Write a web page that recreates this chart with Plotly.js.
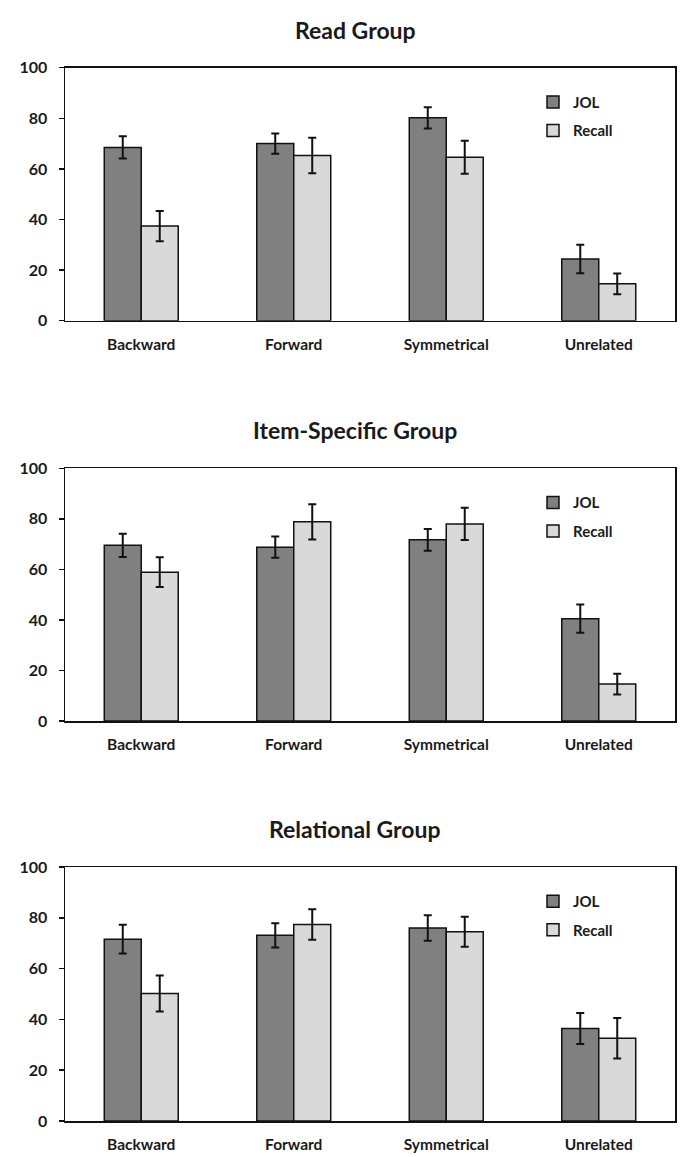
<!DOCTYPE html>
<html>
<head>
<meta charset="utf-8">
<script src="https://cdn.plot.ly/plotly-3.0.1.min.js"></script>
<style>html,body{margin:0;padding:0;background:#fff;}#chart{width:683px;height:1157px;}</style>
</head>
<body>
<div id="chart"></div>
<script>
// ---- data ----
const categories = ["Backward", "Forward", "Symmetrical", "Unrelated"];
const panelTitles = ["Read Group", "Item-Specific Group", "Relational Group"];
const seriesNames = ["JOL", "Recall"];

const readJOL = [68.5, 70.0, 80.2, 24.4];
const readJOLErr = [4.4, 4.0, 4.2, 5.6];
const readRecall = [37.4, 65.3, 64.6, 14.6];
const readRecallErr = [6.0, 7.0, 6.5, 4.1];

const itemJOL = [69.5, 68.8, 71.7, 40.5];
const itemJOLErr = [4.6, 4.2, 4.3, 5.6];
const itemRecall = [58.9, 78.8, 78.0, 14.6];
const itemRecallErr = [5.9, 7.0, 6.4, 4.1];

const relJOL = [71.6, 73.1, 76.0, 36.4];
const relJOLErr = [5.7, 4.8, 5.0, 6.1];
const relRecall = [50.2, 77.4, 74.5, 32.6];
const relRecallErr = [7.1, 6.0, 5.9, 8.0];

const yTickVals = [0, 20, 40, 60, 80, 100];
const yTickText = ["0", "20", "40", "60", "80", "100"];

// ---- styling ----
const FONT = "Lato, 'Open Sans', sans-serif";
const colJOL = "#808080";
const colRecall = "#d9d9d9";
const W = 683, H = 1157, MT = 10, MB = 10, ML = 65, MR = 8;
const PH = H - MT - MB;
const py = px => 1 - (px - MT) / PH;

const panels = [
  {jol: readJOL, jolE: readJOLErr, rec: readRecall, recE: readRecallErr, top: 67.7, bot: 320.7, titleY: 30},
  {jol: itemJOL, jolE: itemJOLErr, rec: itemRecall, recE: itemRecallErr, top: 468.3, bot: 721, titleY: 430},
  {jol: relJOL, jolE: relJOLErr, rec: relRecall, recE: relRecallErr, top: 867, bot: 1121, titleY: 829}
];

const traces = [];
const layout = {
  width: W, height: H,
  margin: {l: ML, r: MR, t: MT, b: MB},
  paper_bgcolor: "#fff", plot_bgcolor: "#fff",
  barmode: "group", bargap: 0.515, bargroupgap: 0,
  font: {family: FONT, size: 15, color: "#1a1a1a", weight: 700},
  annotations: [],
  showlegend: true
};

panels.forEach((p, i) => {
  const n = i === 0 ? "" : String(i + 1);
  const xa = "x" + n, ya = "y" + n;
  const lg = "legend" + n;
  traces.push({
    type: "bar", name: seriesNames[0], x: categories, y: p.jol,
    xaxis: xa, yaxis: ya, legend: lg, legendgroup: "a" + i,
    marker: {color: colJOL, line: {color: "#111", width: 1.5}},
    error_y: {type: "data", array: p.jolE, visible: true, color: "#111", thickness: 2, width: 4},
    hoverinfo: "y"
  });
  traces.push({
    type: "bar", name: seriesNames[1], x: categories, y: p.rec,
    xaxis: xa, yaxis: ya, legend: lg, legendgroup: "b" + i,
    marker: {color: colRecall, line: {color: "#111", width: 1.5}},
    error_y: {type: "data", array: p.recE, visible: true, color: "#111", thickness: 2, width: 4},
    hoverinfo: "y"
  });
  layout["xaxis" + n] = {
    domain: [0, 1], anchor: ya, type: "category",
    range: [-0.5, 3.5],
    showline: true, mirror: true, linecolor: "#111", linewidth: 1.5,
    ticks: "", showgrid: false, zeroline: false,
    ticklabelstandoff: 9,
    tickfont: {family: FONT, size: 15.5, color: "#1a1a1a", weight: 700},
    fixedrange: true
  };
  layout["yaxis" + n] = {
    domain: [py(p.bot), py(p.top)], anchor: xa,
    range: [0, 100], tickvals: yTickVals, ticktext: yTickText,
    showline: true, mirror: true, linecolor: "#111", linewidth: 1.5,
    ticks: "outside", ticklen: 5, tickwidth: 1.5, tickcolor: "#111",
    ticklabelstandoff: 8,
    showgrid: false, zeroline: false,
    tickfont: {family: FONT, size: 16, color: "#1a1a1a", weight: 700},
    fixedrange: true
  };
  layout[lg] = {
    x: (533 - ML) / (W - ML - MR), xanchor: "left",
    y: py(p.top + 18), yanchor: "top",
    bgcolor: "rgba(0,0,0,0)", borderwidth: 0,
    traceorder: "grouped", tracegroupgap: 6,
    itemwidth: 30,
    font: {family: FONT, size: 15, color: "#1a1a1a", weight: 700}
  };
  layout.annotations.push({
    xref: "paper", yref: "paper", x: (355 - ML) / (W - ML - MR), y: py(p.titleY),
    xanchor: "center", yanchor: "middle", showarrow: false,
    text: panelTitles[i],
    font: {family: FONT, size: 23, color: "#1a1a1a", weight: 700}
  });
});

Plotly.newPlot("chart", traces, layout, {displayModeBar: false, staticPlot: true});
</script>
</body>
</html>
